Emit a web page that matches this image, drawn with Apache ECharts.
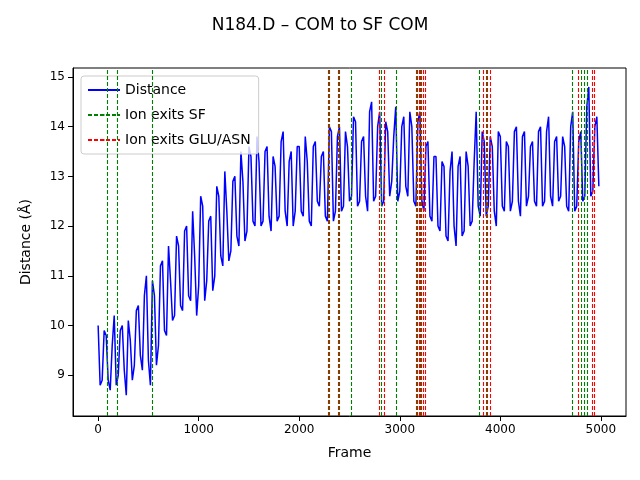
<!DOCTYPE html>
<html><head><meta charset="utf-8">
<script src="https://cdn.jsdelivr.net/npm/echarts@6/dist/echarts.min.js"></script>
<style>html,body{margin:0;padding:0;background:#fff}#c{width:640px;height:480px}</style>
</head><body><div id="c"></div>
<script>
const frameStep = 40;
const distance = [
10.0,8.9,9.8,8.7,10.2,9.0,10.0,8.6,9.7,9.2,
10.4,9.1,11.0,8.8,10.6,9.6,11.3,9.8,10.9,10.2,
11.6,10.3,12.0,10.5,11.4,10.8,12.4,10.9,12.2,11.0,
12.6,11.2,12.3,11.5,13.0,11.6,12.9,11.9,13.4,12.0,
13.3,12.1,13.6,11.9,13.2,12.2,13.9,12.0,13.5,12.3,
13.6,12.2,13.3,12.0,13.7,12.4,13.5,12.1,13.9,12.3,
14.0,12.4,13.6,12.6,14.1,12.5,13.8,12.3,14.5,12.6,
14.3,12.5,13.9,12.9,14.4,12.7,14.2,12.6,14.0,12.4,
14.3,12.3,13.7,12.1,13.4,11.9,13.2,11.7,13.5,11.6,
13.4,11.9,13.2,12.1,14.3,12.2,13.7,12.4,13.6,12.0,
13.8,12.3,13.6,12.5,14.0,12.2,13.9,12.6,13.7,12.4,
14.0,12.5,14.2,12.4,13.8,12.6,13.6,12.3,14.3,12.4,
13.9,12.6,14.8,12.7,14.2
];
const distanceMid = [
8.8,9.9,8.9,9.6,8.8,9.9,9.1,10.1,8.9,10.3,
9.4,10.6,9.3,10.9,9.2,11.2,9.9,11.6,10.1,11.8,
10.4,11.9,10.6,12.3,10.2,12.6,10.5,12.1,10.7,12.8,
11.4,13.1,11.3,12.9,11.8,13.5,11.7,13.6,12.1,13.8,
12.0,13.5,12.2,13.4,12.1,13.7,12.3,13.3,12.0,13.6,
12.3,13.8,12.1,13.6,12.5,13.4,12.2,14.0,12.1,13.8,
12.3,13.9,12.5,14.2,12.4,13.7,12.6,14.3,12.5,14.0,
12.4,14.1,12.6,13.8,12.5,14.0,12.8,14.3,12.5,14.1,
12.5,13.6,12.2,13.4,12.0,13.3,11.8,13.1,12.0,13.2,
11.8,13.5,12.0,13.3,12.4,13.9,12.2,13.8,12.3,13.9,
12.4,13.7,12.3,13.9,12.5,13.8,12.4,13.6,12.5,13.9,
12.4,13.9,12.6,13.7,12.5,13.8,12.4,14.0,12.3,13.7,
12.5,14.4,12.6,14.0,12.8
];
const sfExits = [90,190,540,2300,2397,2513,2820,2963,3175,3215,3790,3863,4713,4803,4830,4863];
const gluExits = [2287,2390,2797,2847,3160,3190,3205,3230,3250,3830,3870,3903,4780,4913,4930];
const xTicks = [0,1000,2000,3000,4000,5000];
const yTicks = [9,10,11,12,13,14,15];

const series = [];
distance.forEach((v,i)=>{ series.push([i*frameStep, v]); series.push([i*frameStep+frameStep/2, distanceMid[i]]); });
const mk = (arr,color,name)=>({
  name, type:'line', data:[], symbol:'none', z:5,
  lineStyle:{color, type:[4,2], width:1}, itemStyle:{color},
  markLine:{silent:true, symbol:'none', label:{show:false}, z:5,
    lineStyle:{color, type:[4,2], width:1.1, opacity:1}, data:arr.map(x=>({xAxis:x}))}
});
const chart = echarts.init(document.getElementById('c'));
chart.setOption({
  animation:false,
  textStyle:{fontFamily:'DejaVu Sans'},
  title:{text:'N184.D – COM to SF COM', left:'center', top:12, textStyle:{fontSize:17, fontWeight:'normal', color:'#000', fontFamily:'DejaVu Sans'}},
  grid:{left:73, right:14, top:68, bottom:64},
  legend:{left:81, top:76, orient:'vertical', itemWidth:32, itemHeight:2, itemGap:11,
    backgroundColor:'rgba(255,255,255,0.8)', borderColor:'#ccc', borderWidth:1, borderRadius:3, padding:[7,8,7,6],
    textStyle:{fontSize:14, color:'#000'},
    data:[{name:'Distance', icon:'rect'}, {name:'Ion exits SF'}, {name:'Ion exits GLU/ASN'}]},
  xAxis:{type:'value', min:-250, max:5250, name:'Frame', nameLocation:'middle', nameGap:30,
    nameTextStyle:{fontSize:14,color:'#000'},
    axisLine:{onZero:false, lineStyle:{color:'#000'}}, splitLine:{show:false},
    axisTick:{customValues:xTicks, lineStyle:{color:'#000'}},
    axisLabel:{customValues:xTicks, color:'#000', fontSize:12, formatter:v=>String(v)}},
  yAxis:{type:'value', min:8.18, max:15.18, name:'Distance (Å)', nameLocation:'middle', nameGap:40,
    nameTextStyle:{fontSize:14,color:'#000'},
    axisLine:{show:true, onZero:false, lineStyle:{color:'#000'}}, splitLine:{show:false},
    axisTick:{show:true, customValues:yTicks, lineStyle:{color:'#000'}},
    axisLabel:{customValues:yTicks, color:'#000', fontSize:12}},
  series:[
    {name:'Distance', type:'line', data:series, symbol:'none', lineStyle:{color:'#0000ff', width:1.5}, itemStyle:{color:'#0000ff'}, z:1},
    mk(sfExits,'#008000','Ion exits SF'),
    mk(gluExits,'#ff0000','Ion exits GLU/ASN')
  ],
  graphic:[{type:'rect', shape:{x:73,y:68,width:553,height:348}, style:{fill:'none', stroke:'#000', lineWidth:1}, silent:true}]
});
</script></body></html>
